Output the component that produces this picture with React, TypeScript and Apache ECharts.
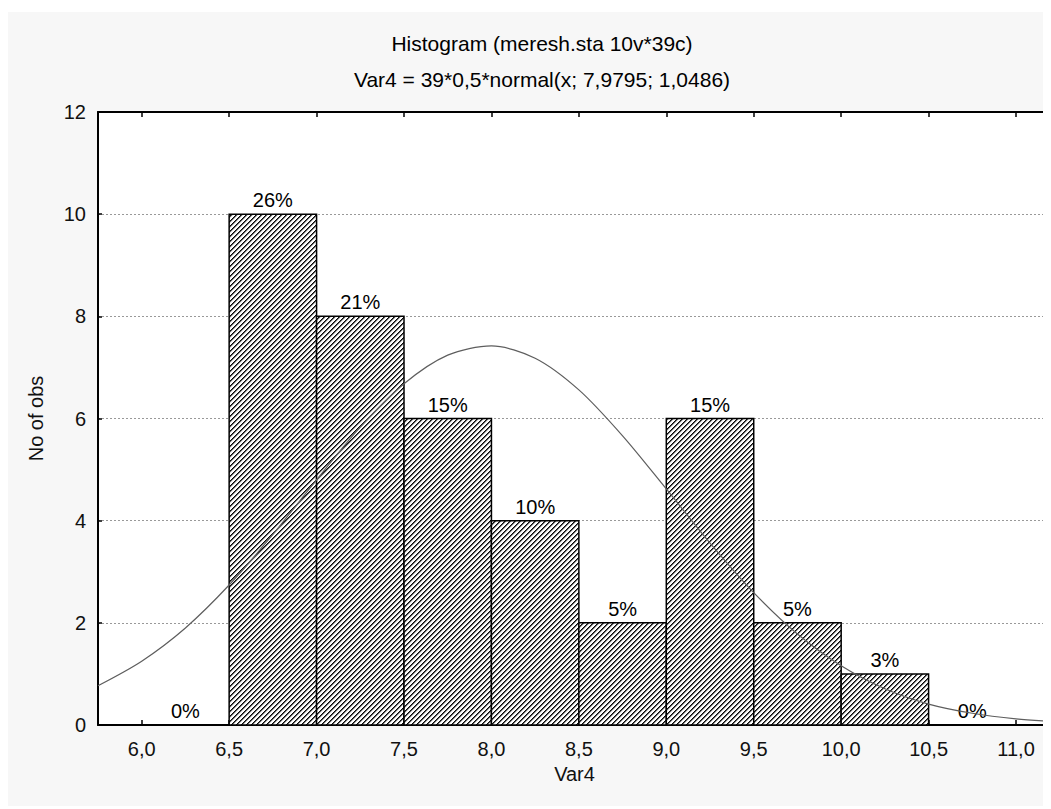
import React, { useEffect, useRef } from "react";
import * as echarts from "echarts";

const binStarts = [6.0, 6.5, 7.0, 7.5, 8.0, 8.5, 9.0, 9.5, 10.0, 10.5];
const binEnds = [6.5, 7.0, 7.5, 8.0, 8.5, 9.0, 9.5, 10.0, 10.5, 11.0];
const counts = [0, 10, 8, 6, 4, 2, 6, 2, 1, 0];
const pctLabels = ["0%", "26%", "21%", "15%", "10%", "5%", "15%", "5%", "3%", "0%"];

const curveX = [5.75, 6.0, 6.25, 6.5, 6.75, 7.0, 7.25, 7.5, 7.75, 8.0, 8.25, 8.5, 8.75, 9.0, 9.25, 9.5, 9.75, 10.0, 10.25, 10.5, 10.75, 11.0, 11.25];
const curveY = [0.77, 1.25, 1.9, 2.74, 3.73, 4.8, 5.83, 6.68, 7.24, 7.42, 7.18, 6.56, 5.66, 4.62, 3.56, 2.59, 1.78, 1.16, 0.71, 0.41, 0.23, 0.12, 0.06];

const xTicks = [6.0, 6.5, 7.0, 7.5, 8.0, 8.5, 9.0, 9.5, 10.0, 10.5, 11.0];

const titleLine1 = "Histogram (meresh.sta 10v*39c)";
const titleLine2 = "Var4 = 39*0,5*normal(x; 7,9795; 1,0486)";

const FONT = "'Liberation Sans', Arial, sans-serif";
const FS = 20;
const TFS = 21;

function makeHatch(): HTMLCanvasElement {
  const c = document.createElement("canvas");
  const n = 5;
  c.width = n;
  c.height = n;
  const ctx = c.getContext("2d")!;
  const img = ctx.createImageData(n, n);
  for (let y = 0; y < n; y++) {
    for (let x = 0; x < n; x++) {
      const d = (x + y) % n;
      let v = 255;
      if (d === 0) v = 10;
      else if (d === 1) v = 90;
      else if (d === 2) v = 225;
      const i = (y * n + x) * 4;
      img.data[i] = v;
      img.data[i + 1] = v;
      img.data[i + 2] = v;
      img.data[i + 3] = 255;
    }
  }
  ctx.putImageData(img, 0, 0);
  return c;
}

export default function App() {
  const ref = useRef<HTMLDivElement>(null);
  useEffect(() => {
    if (!ref.current) return;
    const chart = echarts.init(ref.current, null, { renderer: "svg" });
    const hatch = makeHatch();
    const binData = binStarts.map((s, i) => [s, binEnds[i], counts[i], i]);
    const fmt = (v: number) => v.toFixed(1).replace(".", ",");
    chart.setOption({
      animation: false,
      backgroundColor: "#f7f7f7",
      textStyle: { fontFamily: FONT },
      graphic: [
        {
          type: "text",
          x: 534,
          y: 31,
          style: { text: titleLine1, textAlign: "center", textVerticalAlign: "middle", font: `${TFS}px ${FONT}`, fill: "#000" },
        },
        {
          type: "text",
          x: 534,
          y: 67,
          style: { text: titleLine2, textAlign: "center", textVerticalAlign: "middle", font: `${TFS}px ${FONT}`, fill: "#000" },
        },
      ],
      grid: { left: 90, right: 0, top: 100, bottom: 81, show: true, backgroundColor: "#fff", borderWidth: 0 },
      xAxis: [
        {
          type: "value",
          min: 5.75,
          max: 11.2,
          position: "bottom",
          axisLine: { show: true, lineStyle: { color: "#000", width: 2 } },
          axisTick: { show: true, inside: true, length: 5, customValues: xTicks, lineStyle: { color: "#000", width: 1.5 } },
          axisLabel: { customValues: xTicks, formatter: fmt, fontSize: FS, color: "#111", margin: 14, fontFamily: FONT },
          splitLine: { show: false },
          name: "Var4",
          nameLocation: "middle",
          nameGap: 37,
          nameTextStyle: { fontSize: FS, color: "#111", fontFamily: FONT },
        },
        {
          type: "value",
          min: 5.75,
          max: 11.2,
          position: "top",
          axisLine: { show: true, lineStyle: { color: "#000", width: 2 } },
          axisTick: { show: true, inside: true, length: 5, customValues: xTicks, lineStyle: { color: "#000", width: 1.5 } },
          axisLabel: { show: false },
          splitLine: { show: false },
        },
      ],
      yAxis: {
        type: "value",
        min: 0,
        max: 12,
        interval: 2,
        axisLine: { show: true, lineStyle: { color: "#000", width: 2 } },
        axisTick: { show: true, inside: true, length: 4, lineStyle: { color: "#000", width: 1.5 } },
        axisLabel: { fontSize: FS, color: "#111", margin: 12, fontFamily: FONT },
        splitLine: { show: true, lineStyle: { color: "#999", type: [2, 2], width: 1.2 } },
        name: "No of obs",
        nameLocation: "middle",
        nameGap: 52,
        nameTextStyle: { fontSize: FS, color: "#111", fontFamily: FONT },
      },
      series: [
        {
          type: "custom",
          xAxisIndex: 0,
          data: binData,
          z: 2,
          renderItem: (params: any, api: any) => {
            const x0 = api.value(0);
            const x1 = api.value(1);
            const v = api.value(2);
            const idx = api.value(3);
            const p0 = api.coord([x0, 0]);
            const p1 = api.coord([x1, v]);
            const children: any[] = [];
            if (v > 0) {
              children.push({
                type: "rect",
                shape: { x: p0[0], y: p1[1], width: p1[0] - p0[0], height: p0[1] - p1[1] },
                style: { fill: { image: hatch, repeat: "repeat" }, stroke: "#000", lineWidth: 1.5 },
              });
            }
            children.push({
              type: "text",
              x: (p0[0] + p1[0]) / 2,
              y: p1[1] - 4,
              style: { text: pctLabels[idx], textAlign: "center", textVerticalAlign: "bottom", font: `${FS}px ${FONT}`, fill: "#000" },
            });
            return { type: "group", children };
          },
        },
        {
          type: "line",
          xAxisIndex: 0,
          data: curveX.map((x, i) => [x, curveY[i]]),
          smooth: 0.3,
          showSymbol: false,
          clip: true,
          z: 5,
          lineStyle: { color: "#5e5e5e", width: 1.2 },
        },
      ],
    });
    return () => chart.dispose();
  }, []);
  return (
    <div style={{ paddingTop: 4 }}>
      <div ref={ref} style={{ width: 1043, height: 794 }} />
    </div>
  );
}
